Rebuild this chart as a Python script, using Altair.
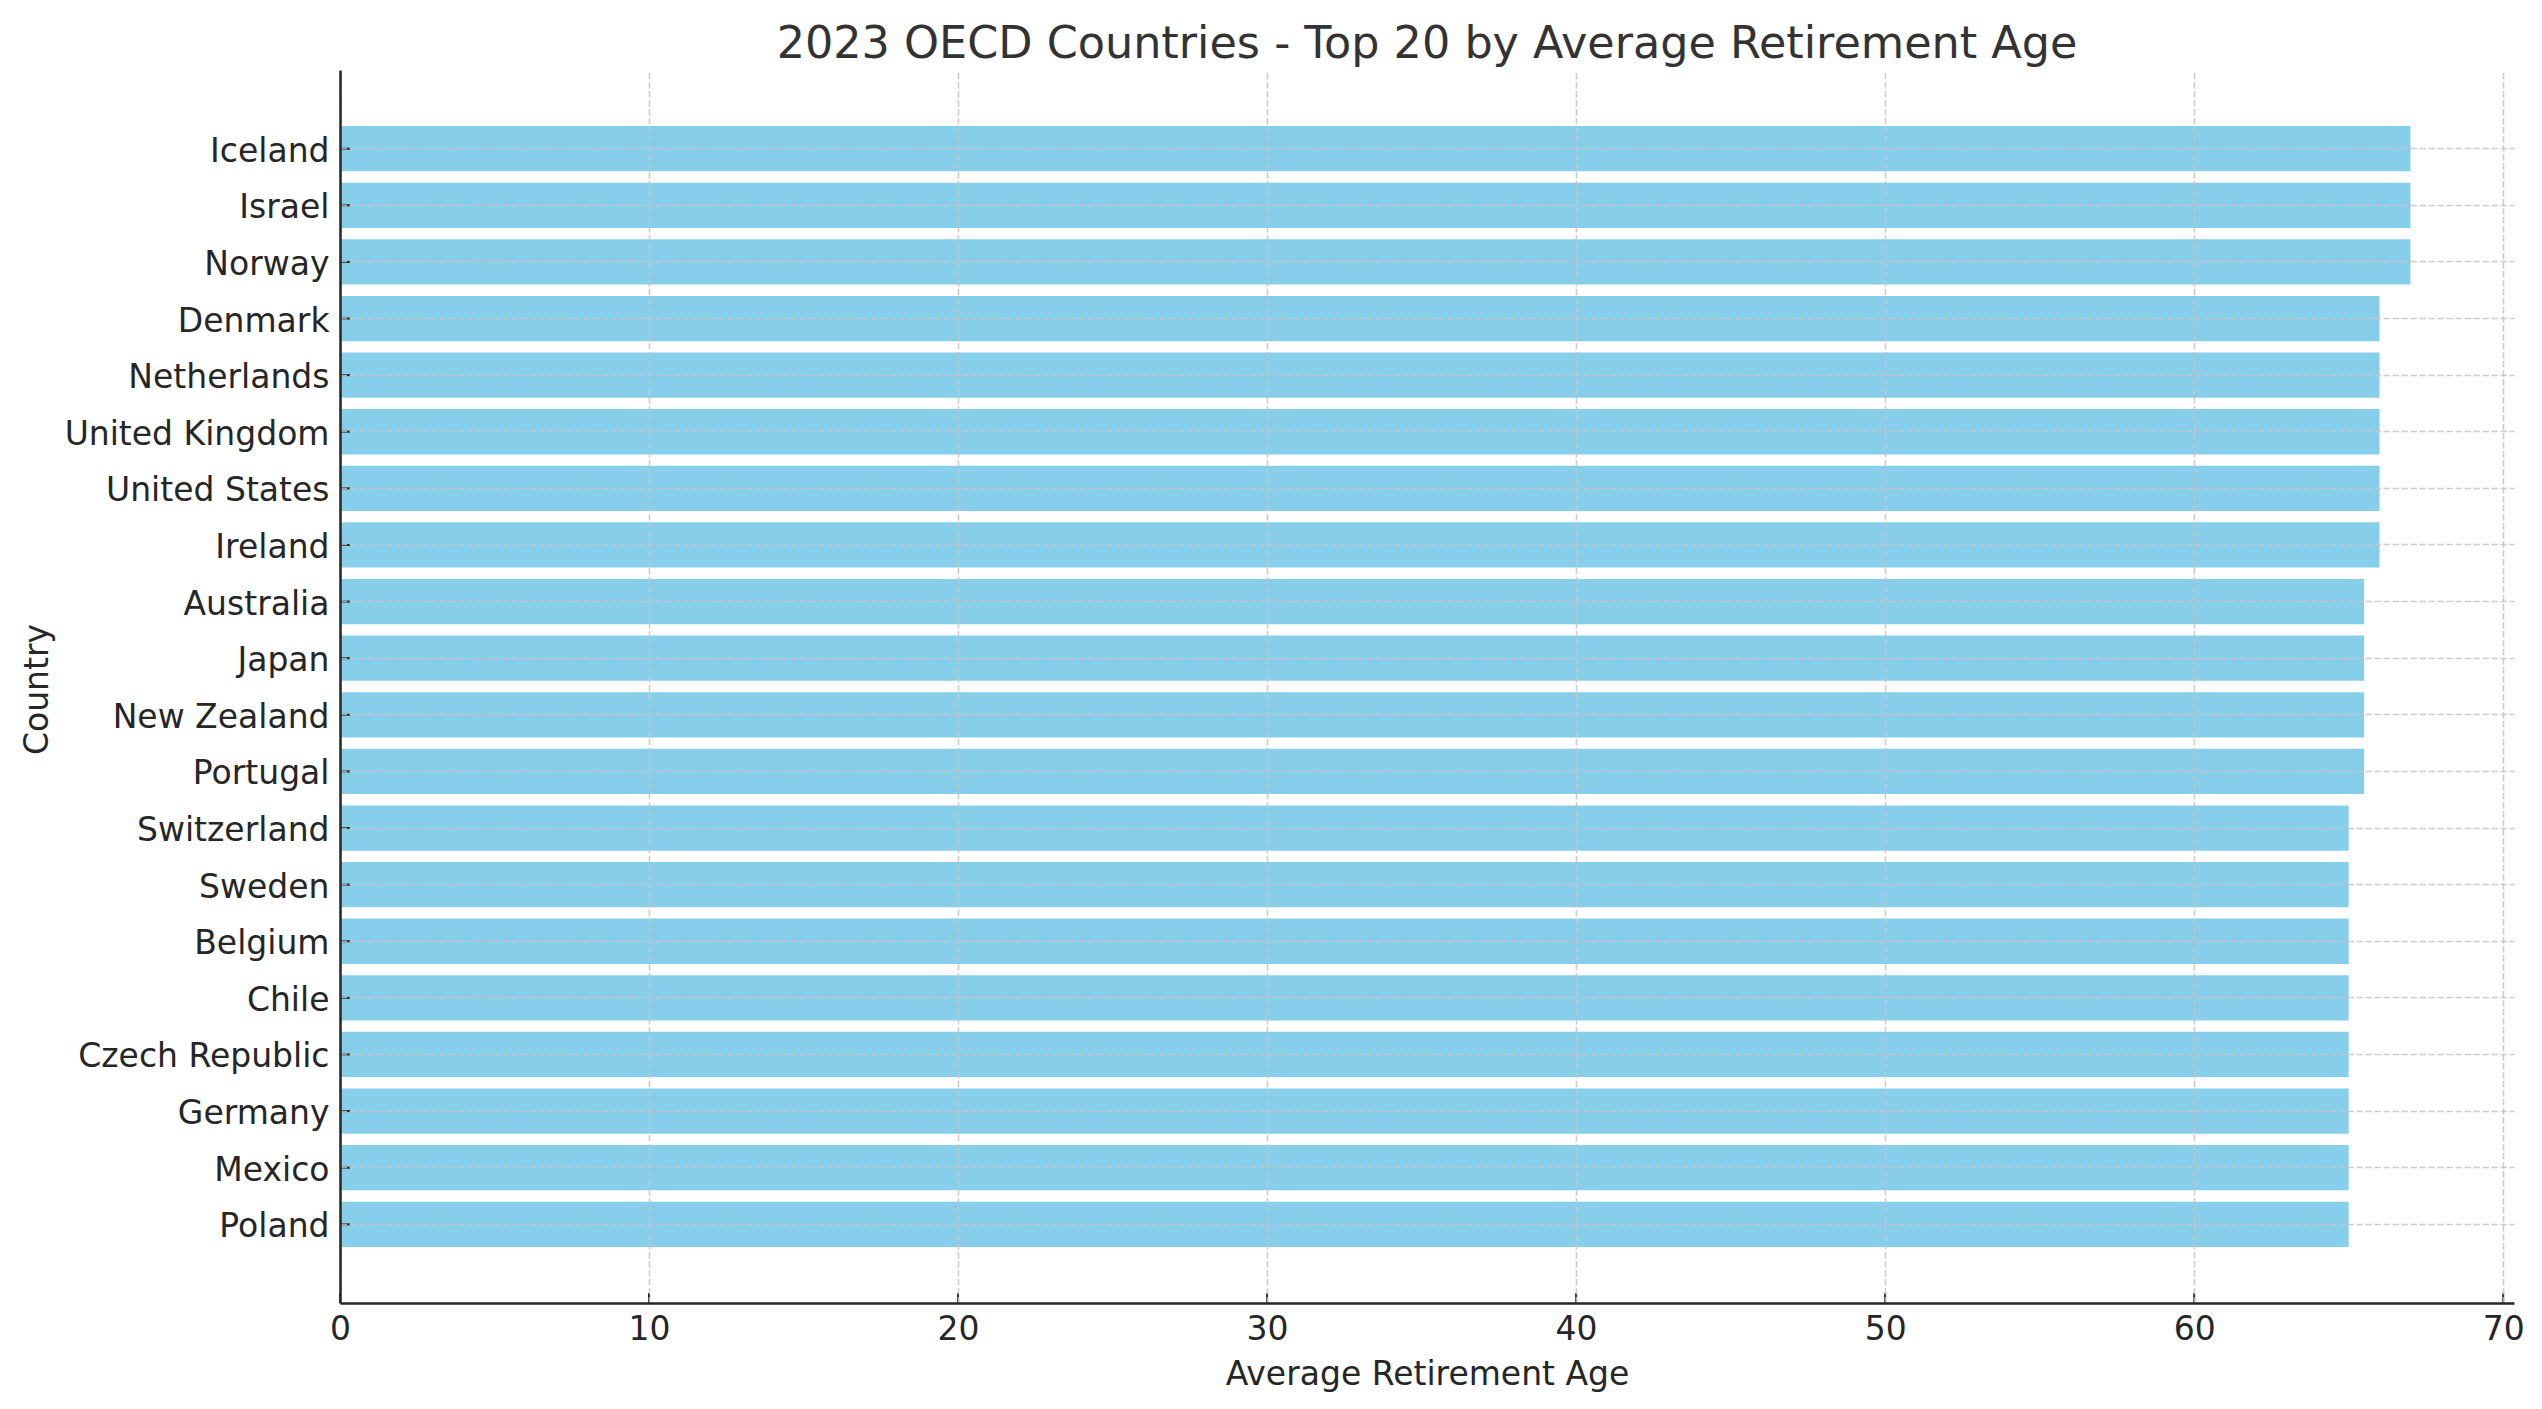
"""Edad media de jubilación - top 20 países OECD 2023."""

import altair as alt
import pandas as pd

countries = [
    "Iceland", "Israel", "Norway", "Denmark", "Netherlands",
    "United Kingdom", "United States", "Ireland", "Australia", "Japan",
    "New Zealand", "Portugal", "Switzerland", "Sweden", "Belgium",
    "Chile", "Czech Republic", "Germany", "Mexico", "Poland",
]
ages = [
    67, 67, 67, 66, 66,
    66, 66, 66, 65.5, 65.5,
    65.5, 65.5, 65, 65, 65,
    65, 65, 65, 65, 65,
]
x_ticks = [0, 10, 20, 30, 40, 50, 60, 70]

W, H = 2174, 1233
FONT = "DejaVu Sans"
INK = "#262626"

df = pd.DataFrame({"country": countries, "age": ages})
ticks_df = pd.DataFrame({"tick": x_ticks})

x_scale = alt.Scale(domain=[0, 70.35], nice=False, zero=True)
y_scale = alt.Scale(domain=countries, paddingInner=0.2, paddingOuter=0.99)

bars = (
    alt.Chart(df)
    .mark_bar(color="#87CEEB")
    .encode(
        x=alt.X(
            "age:Q",
            title="Average Retirement Age",
            scale=x_scale,
            axis=alt.Axis(
                values=x_ticks,
                format="d",
                ticks=False,
                tickSize=0,
                labelPadding=10,
                labelFlush=False,
                titleBaseline="alphabetic",
                titleY=81,
                zindex=1,
            ),
        ),
        y=alt.Y(
            "country:N",
            title="Country",
            sort=countries,
            scale=y_scale,
            axis=alt.Axis(
                ticks=False,
                tickSize=0,
                labelPadding=11,
                labelLimit=0,
                labelOffset=3,
                titleAngle=270,
                titleBaseline="alphabetic",
                titleAlign="center",
                titleX=-293,
                titleY=619,
                zindex=1,
            ),
        ),
    )
)

# ticks hacia dentro, como en matplotlib
y_tick_marks = (
    alt.Chart(df)
    .mark_rule(color=INK, strokeWidth=2)
    .encode(y="country:N", x=alt.value(0), x2=alt.value(10))
)
x_tick_marks = (
    alt.Chart(ticks_df)
    .mark_rule(color=INK, strokeWidth=2)
    .encode(x=alt.X("tick:Q", scale=x_scale), y=alt.value(H), y2=alt.value(H - 10))
)

chart = (
    alt.layer(bars, y_tick_marks, x_tick_marks)
    .properties(
        width=W,
        height=H,
        autosize=alt.AutoSizeParams(type="none"),
        padding={"left": 332, "top": 62, "right": 20, "bottom": 98},
        title=alt.TitleParams(
            "2023 OECD Countries - Top 20 by Average Retirement Age",
            font=FONT,
            fontSize=44.5,
            fontWeight="normal",
            color="#333333",
            anchor="middle",
            baseline="alphabetic",
            offset=6,
            dy=38,
        ),
    )
    .configure_view(stroke=None)
    .configure_axis(
        labelFont=FONT,
        labelFontSize=33,
        labelColor=INK,
        titleFont=FONT,
        titleFontSize=33,
        titleFontWeight="normal",
        titleColor=INK,
        domainColor=INK,
        domainWidth=2.5,
        grid=True,
        gridColor="#c4c4c4",
        gridOpacity=0.85,
        gridWidth=1.6,
        gridDash=[6.5, 2.5],
    )
)

chart.save("out.html", embed_options={"renderer": "svg", "actions": False})
